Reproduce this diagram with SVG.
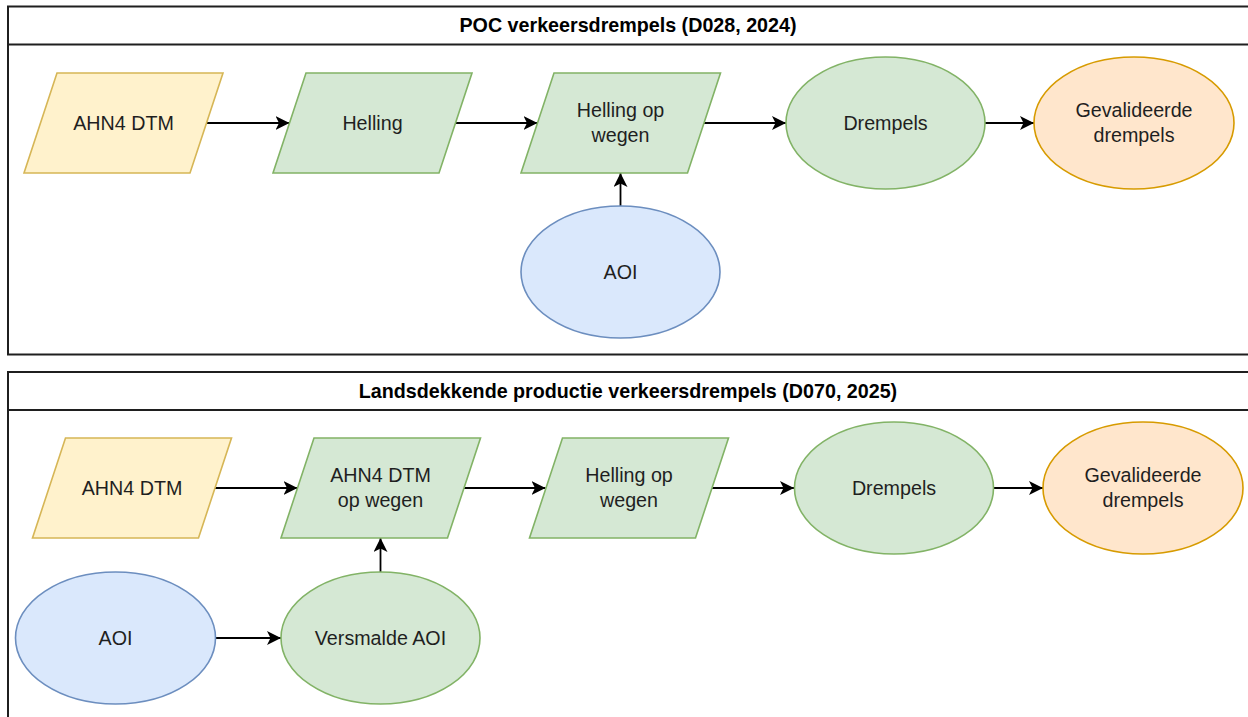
<svg xmlns="http://www.w3.org/2000/svg" width="1248" height="717" viewBox="0 0 1248 717">
<style>
text{font-family:"Liberation Sans",Arial,sans-serif;font-size:19.7px;fill:#1f1f1f;text-anchor:middle}
.title{font-weight:bold;fill:#000}
.cont{fill:#fff;stroke:#1f1f1f;stroke-width:2}
.yel{fill:#fff2cc;stroke:#d6b656;stroke-width:1.6}
.grn{fill:#d5e8d4;stroke:#82b366;stroke-width:1.6}
.blu{fill:#dae8fc;stroke:#6c8ebf;stroke-width:1.6}
.org{fill:#ffe6cc;stroke:#d79b00;stroke-width:1.6}
.edge{fill:none;stroke:#000;stroke-width:1.8;marker-end:url(#arr)}
</style>
<defs>
<marker id="arr" markerUnits="userSpaceOnUse" markerWidth="16" markerHeight="16" refX="14" refY="7" orient="auto">
<path d="M0,0 L14,7 L0,14 L3.5,7 Z" fill="#000"/>
</marker>
</defs>
<rect width="1248" height="717" fill="#fff"/>
<g id="container1">
<rect class="cont" x="8" y="6.5" width="1250" height="348"/>
<line x1="8" y1="44.5" x2="1258" y2="44.5" stroke="#1f1f1f" stroke-width="2"/>
<text class="title" x="628" y="32">POC verkeersdrempels (D028, 2024)</text>
</g>
<g id="container2">
<rect class="cont" x="8" y="372" width="1250" height="360"/>
<line x1="8" y1="410" x2="1258" y2="410" stroke="#1f1f1f" stroke-width="2"/>
<text class="title" x="628" y="398">Landsdekkende productie verkeersdrempels (D070, 2025)</text>
</g>
<g id="edges">
<line class="edge" x1="207" y1="123" x2="289.5" y2="123"/>
<line class="edge" x1="455" y1="123" x2="537.5" y2="123"/>
<line class="edge" x1="704" y1="123" x2="786" y2="123"/>
<line class="edge" x1="985" y1="123" x2="1034" y2="123"/>
<line class="edge" x1="620.5" y1="206" x2="620.5" y2="173"/>
<line class="edge" x1="215" y1="488" x2="297.5" y2="488"/>
<line class="edge" x1="463" y1="488" x2="545.5" y2="488"/>
<line class="edge" x1="712" y1="488" x2="794" y2="488"/>
<line class="edge" x1="993" y1="488" x2="1043" y2="488"/>
<line class="edge" x1="215.5" y1="638" x2="281" y2="638"/>
<line class="edge" x1="380.5" y1="572" x2="380.5" y2="538"/>
</g>
<g id="n1">
<polygon class="yel" points="57,73 223,73 190,173 24,173"/>
<text x="123.5" y="130">AHN4 DTM</text>
</g>
<g id="n2">
<polygon class="grn" points="306,73 472,73 439,173 273,173"/>
<text x="372.5" y="130">Helling</text>
</g>
<g id="n3">
<polygon class="grn" points="554,73 720.5,73 687.5,173 521,173"/>
<text x="620.5" y="117">Helling op</text>
<text x="620.5" y="142">wegen</text>
</g>
<g id="n4">
<ellipse class="grn" cx="885.5" cy="123" rx="99.5" ry="66"/>
<text x="885.5" y="130">Drempels</text>
</g>
<g id="n5">
<ellipse class="org" cx="1134" cy="123" rx="100" ry="66"/>
<text x="1134" y="117">Gevalideerde</text>
<text x="1134" y="142">drempels</text>
</g>
<g id="n6">
<ellipse class="blu" cx="620.5" cy="272" rx="99.5" ry="66"/>
<text x="620.5" y="279">AOI</text>
</g>
<g id="m1">
<polygon class="yel" points="65.5,438 231.5,438 198.5,538 32.5,538"/>
<text x="132" y="495">AHN4 DTM</text>
</g>
<g id="m2">
<polygon class="grn" points="314,438 480.5,438 447.5,538 281,538"/>
<text x="380.5" y="482">AHN4 DTM</text>
<text x="380.5" y="507">op wegen</text>
</g>
<g id="m3">
<polygon class="grn" points="562.5,438 728.5,438 695.5,538 529.5,538"/>
<text x="629" y="482">Helling op</text>
<text x="629" y="507">wegen</text>
</g>
<g id="m4">
<ellipse class="grn" cx="894" cy="488" rx="99.5" ry="66"/>
<text x="894" y="495">Drempels</text>
</g>
<g id="m5">
<ellipse class="org" cx="1143" cy="488" rx="100" ry="66"/>
<text x="1143" y="482">Gevalideerde</text>
<text x="1143" y="507">drempels</text>
</g>
<g id="m6">
<ellipse class="blu" cx="115.5" cy="638" rx="100" ry="66"/>
<text x="115.5" y="645">AOI</text>
</g>
<g id="m7">
<ellipse class="grn" cx="380.5" cy="638" rx="99.5" ry="66"/>
<text x="380.5" y="645">Versmalde AOI</text>
</g>
</svg>
